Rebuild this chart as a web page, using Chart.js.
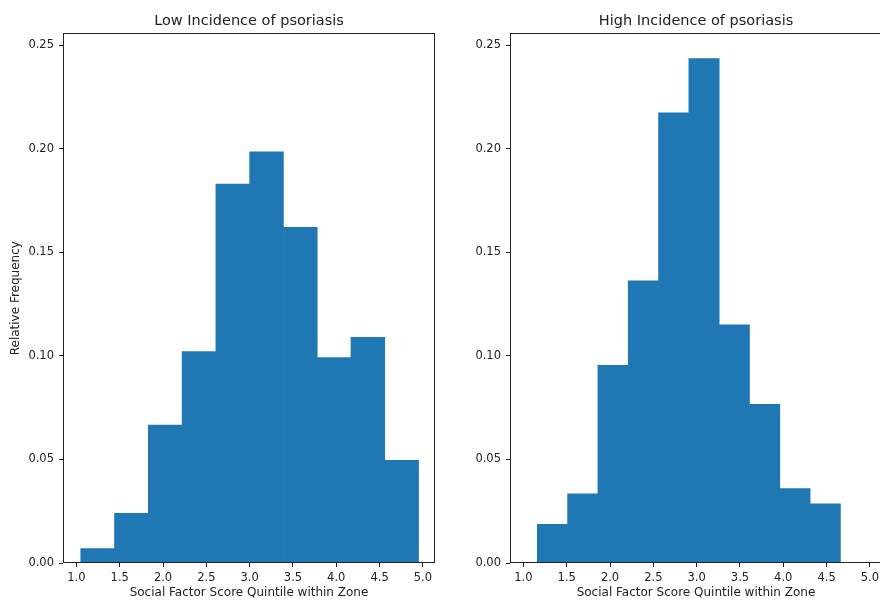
<!DOCTYPE html>
<html>
<head>
<meta charset="utf-8">
<script src="https://cdn.jsdelivr.net/npm/chart.js@4.4.1/dist/chart.umd.min.js"></script>
<style>
  html, body { margin: 0; padding: 0; background: #fff; overflow: hidden; }
  #wrap { position: relative; width: 880px; height: 604px; overflow: hidden; }
  #lowChart { position: absolute; left: 0; top: 0; }
  #highChart { position: absolute; left: 440px; top: 0; }
</style>
</head>
<body>
<div id="wrap">
  <canvas id="lowChart" width="440" height="604"></canvas>
  <canvas id="highChart" width="450" height="604"></canvas>
</div>
<script>
// Histogram bins (edges) and relative frequencies
const lowBinEdges = [1.05, 1.44, 1.83, 2.22, 2.61, 3.00, 3.39, 3.78, 4.17, 4.56, 4.95];
const lowFreq = [0.0069, 0.0240, 0.0666, 0.1020, 0.1829, 0.1985, 0.1620, 0.0991, 0.1089, 0.0496];

const highBinEdges = [1.16, 1.51, 1.86, 2.21, 2.56, 2.91, 3.26, 3.61, 3.96, 4.31, 4.66];
const highFreq = [0.0187, 0.0334, 0.0954, 0.1362, 0.2173, 0.2434, 0.1150, 0.0766, 0.0359, 0.0286];

// Axis ranges and ticks
const xRange = [0.845, 5.14];
const yRange = [0, 0.2556];
const xTickStep = 0.5;
const yTickStep = 0.05;

const BAR_COLOR = '#1f77b4';
const INK = '#222';

Chart.defaults.font.family = '"DejaVu Sans", sans-serif';
Chart.defaults.color = INK;

// Draw the four spines around the plot area
const axesFrame = {
    id: 'axesFrame',
    afterDatasetsDraw(chart) {
        const { ctx, chartArea: a } = chart;
        const l = Math.round(a.left) + 0.5;
        const t = Math.round(a.top) + 0.5;
        const r = Math.round(a.right) - 0.5;
        const b = Math.round(a.bottom) - 0.5;
        ctx.save();
        ctx.strokeStyle = INK;
        ctx.lineWidth = 1;
        ctx.strokeRect(l, t, r - l, b - t);
        ctx.restore();
    }
};

function toBars(edges, freq) {
    return freq.map((f, i) => ({ x: (edges[i] + edges[i + 1]) / 2, y: f }));
}

function createHistogram(canvasId, title, edges, freq, yAxisWidth, rightPad, yTitle) {
    const ctx = document.getElementById(canvasId);
    if (!ctx) return null;

    return new Chart(ctx, {
        type: 'bar',
        data: {
            datasets: [{
                data: toBars(edges, freq),
                backgroundColor: BAR_COLOR,
                borderWidth: 0,
                barPercentage: 1,
                categoryPercentage: 1
            }]
        },
        options: {
            responsive: false,
            animation: false,
            layout: { padding: { left: 0, top: 0, bottom: 0, right: rightPad } },
            plugins: {
                legend: { display: false },
                tooltip: { enabled: false },
                title: {
                    display: true,
                    text: title,
                    fullSize: false,
                    color: INK,
                    font: { size: 14.5, weight: 'normal' },
                    padding: { top: 13, bottom: 3 }
                }
            },
            scales: {
                x: {
                    type: 'linear',
                    offset: false,
                    min: xRange[0],
                    max: xRange[1],
                    afterFit(scale) { scale.height = 41; },
                    border: { display: false },
                    grid: {
                        offset: false,
                        drawOnChartArea: false,
                        drawTicks: true,
                        tickLength: 4,
                        color: INK
                    },
                    ticks: {
                        stepSize: xTickStep,
                        includeBounds: false,
                        maxRotation: 0,
                        autoSkip: false,
                        padding: 4,
                        font: { size: 11.5 },
                        callback: v => v.toFixed(1)
                    },
                    title: {
                        display: true,
                        text: 'Social Factor Score Quintile within Zone',
                        font: { size: 12 },
                        padding: { top: 0, bottom: 4 }
                    }
                },
                y: {
                    min: yRange[0],
                    max: yRange[1],
                    afterFit(scale) { scale.width = yAxisWidth; },
                    border: { display: false },
                    grid: {
                        drawOnChartArea: false,
                        drawTicks: true,
                        tickLength: 4,
                        color: INK
                    },
                    ticks: {
                        stepSize: yTickStep,
                        includeBounds: false,
                        padding: 5,
                        font: { size: 11.5 },
                        callback: v => v.toFixed(2)
                    },
                    title: {
                        display: !!yTitle,
                        text: yTitle || '',
                        font: { size: 12 },
                        padding: { top: 9, bottom: 0 }
                    }
                }
            }
        },
        plugins: [axesFrame]
    });
}

createHistogram('lowChart', 'Low Incidence of psoriasis', lowBinEdges, lowFreq, 63, 5, 'Relative Frequency');
createHistogram('highChart', 'High Incidence of psoriasis', highBinEdges, highFreq, 70, 8, null);
</script>
</body>
</html>
